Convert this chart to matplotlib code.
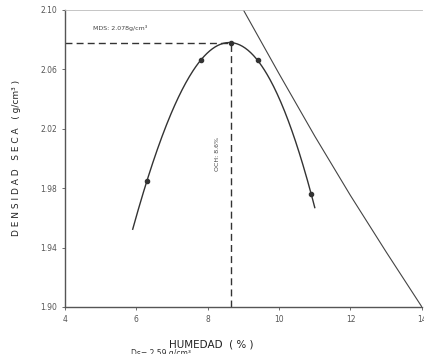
import numpy as np
import matplotlib
matplotlib.use("Agg")
import matplotlib.pyplot as plt

# compaction test points (humedad %, densidad seca g/cm3)
humedad = [6.3, 7.8, 8.65, 9.4, 10.9]
densidad = [1.985, 2.066, 2.078, 2.066, 1.976]

# saturation line
sat_humedad = [9.0, 10.0, 11.0, 12.0, 13.0, 14.0]
sat_densidad = [2.100, 2.057, 2.015, 1.975, 1.937, 1.900]

opt_humedad = 8.65
max_densidad = 2.078

x_ticks = [4, 6, 8, 10, 12, 14]
y_ticks = [1.90, 1.94, 1.98, 2.02, 2.06, 2.10]


def main():
    fig = plt.figure(figsize=(4.24, 3.54), dpi=100)
    ax = fig.add_axes([0.153, 0.133, 0.842, 0.839])

    coef = np.polyfit(humedad, densidad, 4)
    xs = np.linspace(5.9, 11.0, 200)
    ax.plot(xs, np.polyval(coef, xs), color="#333333", lw=1.0)
    ax.plot(humedad, densidad, "o", color="#333333", ms=3)

    ax.plot(sat_humedad, sat_densidad, color="#444444", lw=0.8)

    ax.plot([4, opt_humedad], [max_densidad, max_densidad], "--", color="#333333", lw=1.0, dashes=(5, 3))
    ax.plot([opt_humedad, opt_humedad], [1.90, max_densidad], "--", color="#333333", lw=1.0, dashes=(5, 3))

    ax.text(4.8, 2.088, "MDS: 2.078g/cm\u00b3", fontsize=4.5, color="#444444", va="center")
    ax.text(8.28, 2.003, "OCH: 8.6%", fontsize=4.5, color="#444444", rotation=90, ha="center", va="center")

    ax.set_xlim(4, 14)
    ax.set_ylim(1.90, 2.10)
    ax.set_xticks(x_ticks)
    ax.set_yticks(y_ticks)
    ax.set_xticklabels([str(t) for t in x_ticks])
    ax.set_yticklabels([f"{t:.2f}" for t in y_ticks])
    ax.tick_params(labelsize=5.5, colors="#555555", length=2, width=0.6)

    for side in ["left", "bottom"]:
        ax.spines[side].set_color("#555555")
        ax.spines[side].set_linewidth(1.0)
    ax.spines["top"].set_color("#bbbbbb")
    ax.spines["top"].set_linewidth(0.6)
    ax.spines["right"].set_visible(False)

    ax.set_xlabel("HUMEDAD  ( % )", fontsize=7.5, color="#222222")
    ax.xaxis.set_label_coords(0.41, -0.11)
    ax.set_ylabel("D E N S I D A D   S E C A   ( g/cm\u00b3 )", fontsize=6.5, color="#222222", labelpad=14)

    fig.text(0.31, 0.0, "Ds= 2.59 g/cm\u00b3", fontsize=5.5, color="#333333", va="center")

    fig.savefig("out.png", dpi=100)
    plt.close(fig)


if __name__ == "__main__":
    main()
